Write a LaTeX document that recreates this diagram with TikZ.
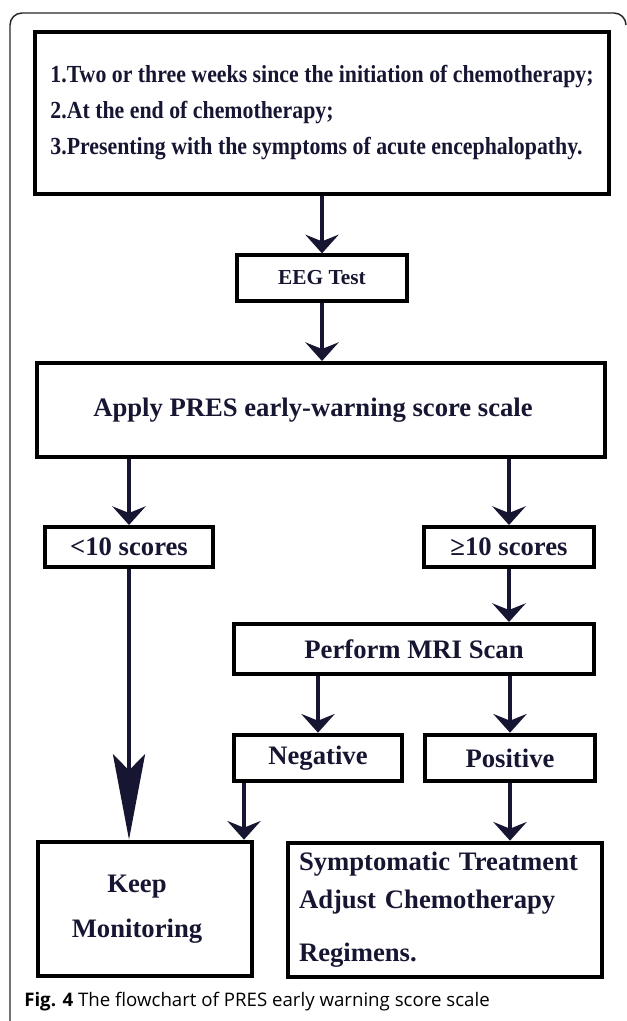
\documentclass[tikz,border=0pt]{standalone}
\usepackage{fontspec}
\setmainfont{Liberation Serif}
\newfontfamily\condfont[FakeStretch=0.89]{Liberation Serif}
\newfontfamily\capfont{Open Sans}
\usetikzlibrary{arrows.meta,calc}
\definecolor{Navy}{RGB}{22,22,50}
\tikzset{
  stepbox/.style={draw=black, line width=3pt, text=Navy, font=\bfseries\fontsize{20}{24}\selectfont, inner sep=0pt},
  flow/.style={draw=Navy, line width=3.6pt, -{Stealth[length=14pt,width=25pt,inset=5pt]}},
  longflow/.style={draw=Navy, line width=3.6pt, -{Stealth[length=64pt,width=24pt,inset=12pt]}},
}

\begin{document}
\begin{tikzpicture}[x=0.75pt,y=-0.75pt]

    \useasboundingbox (0,0) rectangle (627,1021);

    \draw[line width=1.1pt, color=black!85, rounded corners=9pt] (10,1021) -- (10,13) -- (626,13) -- (626,24); % ----- Cadre

    % ----- Boites
    \node[stepbox, minimum width=430.5pt, minimum height=121.5pt, align=left,
          font=\condfont\bfseries\fontsize{18.4}{27}\selectfont] (cond) at (322,113)
        {1.Two or three weeks since the initiation of chemotherapy;\\
         2.At the end of chemotherapy;\\
         3.Presenting with the symptoms of acute encephalopathy.};
    \node[stepbox, minimum width=127.5pt, minimum height=34pt, font=\bfseries\fontsize{16}{19}\selectfont] (eeg) at (322,278) {EEG Test};
    \node[stepbox, minimum width=426pt, minimum height=70.5pt] (apply) at (321,410) {Apply PRES early-warning score scale\hspace*{12pt}};
    \node[stepbox, minimum width=126pt, minimum height=30pt] (low) at (129,547) {<10 scores};
    \node[stepbox, minimum width=127.5pt, minimum height=30pt] (high) at (509,547) {≥10 scores};
    \node[stepbox, minimum width=270pt, minimum height=37.5pt] (mri) at (414,649) {Perform MRI Scan};
    \node[stepbox, minimum width=126pt, minimum height=35pt] (neg) at (318,758) {Negative};
    \node[stepbox, minimum width=128pt, minimum height=35pt] (pos) at (510,758) {Positive};
    \node[stepbox, minimum width=160.5pt, minimum height=101pt, align=center,
          font=\bfseries\fontsize{20}{34}\selectfont] (keep) at (145,909) {Keep\hspace*{12pt}\\Monitoring\hspace*{12pt}};
    \node[stepbox, minimum width=235.5pt, minimum height=101pt, text width=219pt, align=left,
          font=\bfseries\fontsize{20}{28.5}\selectfont] (sym) at (445,910)
        {Symptomatic Treatment\\Adjust Chemotherapy\\[11pt]Regimens.};

    % ----- Fleches
    \draw[flow] (cond.south -| eeg.north) -- (eeg.north);
    \draw[flow] (eeg.south) -- (eeg.south |- apply.north);
    \draw[flow] (low.north |- apply.south) -- (low.north);
    \draw[flow] (high.north |- apply.south) -- (high.north);
    \draw[flow] (high.south) -- (high.south |- mri.north);
    \draw[flow] (neg.north |- mri.south) -- (neg.north);
    \draw[flow] (pos.north |- mri.south) -- (pos.north);
    \draw[longflow] (low.south) -- (low.south |- keep.north);
    \coordinate (negout) at ([xshift=9pt]neg.south west);
    \draw[flow] (negout) -- (negout |- keep.north);
    \draw[flow] (pos.south) -- (pos.south |- sym.north);

    \node[anchor=west, inner sep=0pt, font=\capfont\fontsize{14}{17}\selectfont] (cap) at (24,1002)
        {\textbf{Fig. 4} The flowchart of PRES early warning score scale};
\end{tikzpicture}
\end{document}
